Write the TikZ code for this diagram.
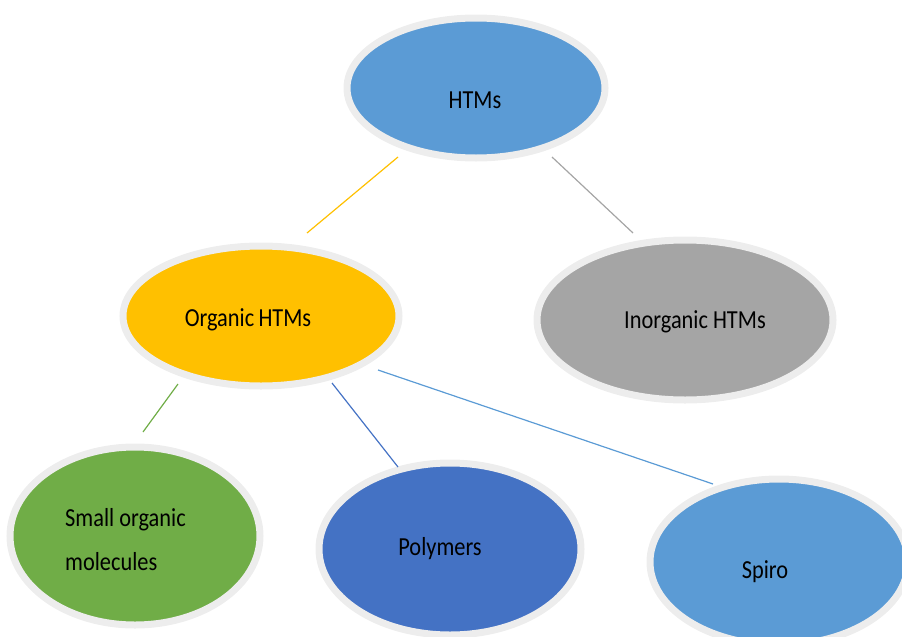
\documentclass[tikz,border=0pt]{standalone}
\usepackage{fontspec}
\setmainfont[FakeStretch=0.86]{Carlito}
\usetikzlibrary{shapes.geometric}
\definecolor{cblue}{HTML}{5B9BD5}
\definecolor{cdblue}{HTML}{4472C4}
\definecolor{cgold}{HTML}{FFC000}
\definecolor{cgray}{HTML}{A5A5A5}
\definecolor{cgreen}{HTML}{70AD47}
\definecolor{cring}{HTML}{EDEDED}
\tikzset{
  bubble/.style={ellipse, draw=cring, line width=7pt, inner sep=0pt},
  txt/.style={font=\fontsize{26}{44}\selectfont, text=black, inner sep=0pt},
  link/.style={line width=1.2pt}
}
\begin{document}
\begin{tikzpicture}[x=1pt,y=-1pt]
\useasboundingbox (0,0) rectangle (902,637);
\node[bubble, fill=cblue, minimum width=258, minimum height=140] (htms) at (476,88) {};
\node[bubble, fill=cgold, minimum width=276, minimum height=140] (org) at (261,316) {};
\node[bubble, fill=cgray, minimum width=296, minimum height=160] (inorg) at (685,320) {};
\node[bubble, fill=cgreen, minimum width=250, minimum height=178] (small) at (135,536) {};
\node[bubble, fill=cdblue, minimum width=262, minimum height=172] (poly) at (450,549) {};
\node[bubble, fill=cblue, minimum width=258, minimum height=166] (spiro) at (779,562) {};
\node[txt] (thtms) at (475,100) {HTMs};
\node[txt] (torg) at (248,320) {Organic\,HTMs};
\node[txt] (tinorg) at (695,322) {Inorganic HTMs};
\node[txt, anchor=west, align=left] (tsmall) at (65,540) {Small organic\\molecules};
\node[txt] (tpoly) at (440,549) {Polymers};
\node[txt] (tspiro) at (765,572) {Spiro};
\coordinate (a1) at (398,157); \coordinate (a2) at (307,233);
\coordinate (b1) at (552,157); \coordinate (b2) at (633,233);
\coordinate (c1) at (178,384); \coordinate (c2) at (143,432);
\coordinate (d1) at (332,383); \coordinate (d2) at (398,467);
\coordinate (e1) at (378,370); \coordinate (e2) at (713,484);
\draw[link, draw=cgold] (a1) -- (a2);
\draw[link, draw=cgray] (b1) -- (b2);
\draw[link, draw=cgreen] (c1) -- (c2);
\draw[link, draw=cdblue] (d1) -- (d2);
\draw[link, draw=cblue] (e1) -- (e2);
\end{tikzpicture}
\end{document}
